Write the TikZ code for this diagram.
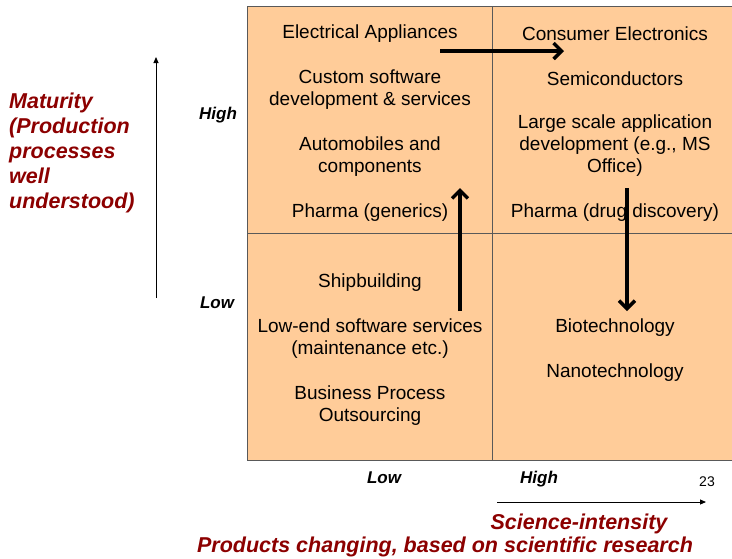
\documentclass[tikz,border=0pt]{standalone}
\usepackage{fontspec}
\setmainfont{Liberation Sans}
\usepackage{xcolor}
\usepackage{tikz}
\usetikzlibrary{arrows.meta,positioning}

\definecolor{peach}{RGB}{255,204,153}
\definecolor{maroon}{RGB}{140,0,0}

\begin{document}
\begin{tikzpicture}[x=1pt,y=-1pt,
        every node/.style={inner sep=0pt},
        item/.style={align=center,font=\fontsize{19}{22}\selectfont},
        level/.style={font=\fontsize{17}{20}\selectfont\bfseries\itshape},
        axistitle/.style={maroon,font=\fontsize{21.5}{25}\selectfont\bfseries\itshape},
        grid/.style={draw=black!65,line width=0.8pt},
        trend/.style={-{Straight Barb[length=8pt,width=16pt,line width=3.4pt]},line width=3.4pt},
        axis/.style={-{Triangle[length=6pt,width=5pt]},line width=0.9pt}]

    \useasboundingbox (0,0) rectangle (732,558);

    % quadrant grid
    \fill[peach] (247,6) rectangle (732,460);
    \draw[grid] (732,6) -- (247,6) -- (247,460) -- (732,460);
    \draw[grid] (492,6) -- (492,460);
    \draw[grid] (247,233) -- (732,233);

    % top left
    \node[item] (elec) at (370,33.5) {Electrical Appliances};
    \node[item] (custom) at (370,89.5) {Custom software\\development \& services};
    \node[item] (auto) at (370,156.5) {Automobiles and\\components};
    \node[item] (generics) at (370,212.5) {Pharma (generics)};

    % top right
    \node[item] (consumer) at (615,33.5) {Consumer Electronics};
    \node[item] (semi) at (615,78.5) {Semiconductors};
    \node[item] (large) at (615,145.5) {Large scale application\\development (e.g., MS\\Office)};
    \node[item] (drug) at (615,212.5) {Pharma (drug discovery)};

    % bottom left
    \node[item] (ship) at (370,282.5) {Shipbuilding};
    \node[item] (lowend) at (370,338.5) {Low-end software services\\(maintenance etc.)};
    \node[item] (bpo) at (370,405.5) {Business Process\\Outsourcing};

    % bottom right
    \node[item] (bio) at (615,327.5) {Biotechnology};
    \node[item] (nano) at (615,372.5) {Nanotechnology};

    % movements
    \coordinate (right0) at (440,51);
    \coordinate (right1) at (564,51);
    \coordinate (up0) at (460,311);
    \coordinate (up1) at (460,188);
    \coordinate (down0) at (627,188);
    \coordinate (down1) at (627,311);
    \draw[trend] (right0) -- (right1);
    \draw[trend] (up0) -- (up1);
    \draw[trend] (down0) -- (down1);

    % vertical axis
    \coordinate (vbot) at (156,298);
    \coordinate (vtop) at (156,57);
    \draw[axis] (vbot) -- (vtop);
    \node[level] (vhigh) at (218,115) {High};
    \node[level] (vlow) at (217,303) {Low};
    \node[axistitle,align=left,anchor=west] (maturity) at (9,153)
        {Maturity\\(Production\\processes\\well\\understood)};

    % horizontal axis
    \node[level] (hlow) at (384,478) {Low};
    \node[level] (hhigh) at (539,479) {High};
    \node[font=\fontsize{14}{16}\selectfont] (page) at (707,482) {23};
    \coordinate (hleft) at (497,502);
    \coordinate (hright) at (706,502);
    \draw[axis] (hleft) -- (hright);
    \node[axistitle] (science) at (579,524) {Science-intensity};
    \node[axistitle] (products) at (445,546.5) {Products changing, based on scientific research};
\end{tikzpicture}
\end{document}
